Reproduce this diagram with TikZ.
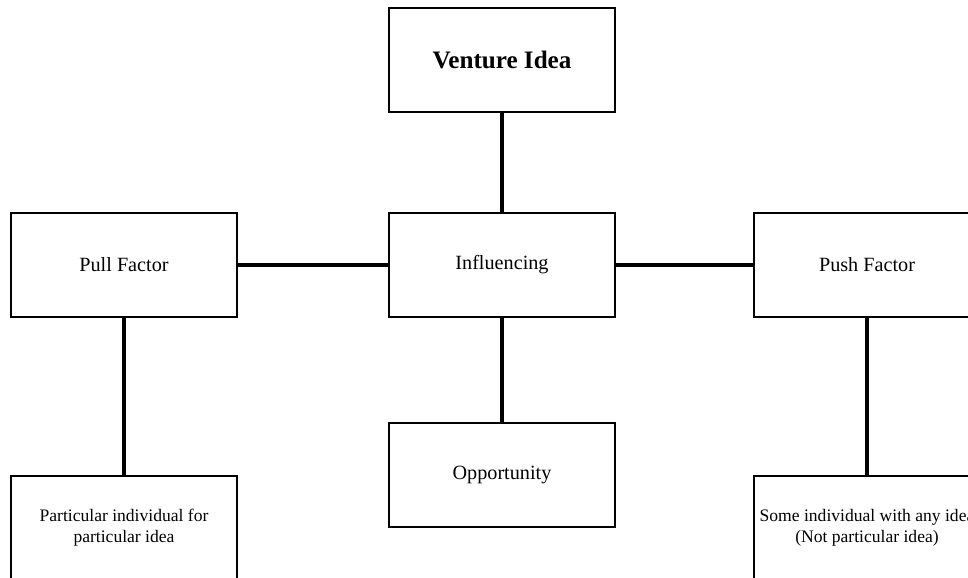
\documentclass[tikz,border=0pt]{standalone}
\usepackage{fontspec}
\setmainfont{Liberation Serif}
\tikzset{
  factorbox/.style={draw, line width=1.2pt, minimum width=4.52cm, minimum height=2.08cm,
    align=center, inner sep=0pt, font=\fontsize{11.5}{13}\selectfont},
  notebox/.style={factorbox, font=\fontsize{10}{12}\selectfont},
  link/.style={line width=2pt}
}
\begin{document}
\begin{tikzpicture}[x=0.02cm, y=-0.02cm]
\useasboundingbox (0,0) rectangle (968,578);
\clip (0,0) rectangle (968,578);

\node [factorbox, font=\fontsize{14.3}{16}\selectfont\bfseries] (idea) at (502,60) {Venture Idea};
\node [factorbox] (infl) at (502,265) {Influencing};
\node [factorbox] (pull) at (124,265) {Pull Factor};
\node [factorbox] (push) at (867,265) {Push Factor};
\node [factorbox] (oppo) at (502,475) {Opportunity};

\node [notebox] (pullnote) at (124,528) {Particular individual for\\particular idea};
\node [notebox] (pushnote) at (867,528) {Some individual with any idea\\(Not particular idea)};

\draw [link] (idea) -- (infl);
\draw [link] (pull) -- (infl);
\draw [link] (infl) -- (push);
\draw [link] (infl) -- (oppo);
\draw [link] (pull) -- (pullnote);
\draw [link] (push) -- (pushnote);

\end{tikzpicture}
\end{document}
